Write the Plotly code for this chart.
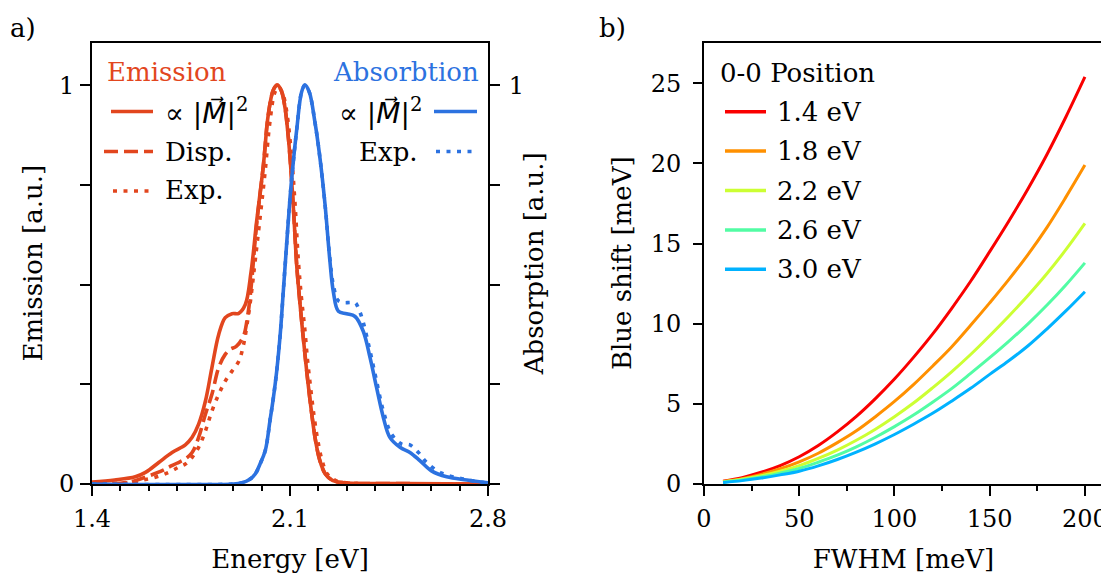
import plotly.graph_objects as go

# The page adds an 8 px body margin, so the figure is 8 px smaller than the window
# and all layout positions below are given in window pixels, then shifted.
OFF = 8
W, H = 1109 - OFF, 575 - OFF


def px(x):
    return (x - OFF) / W


def py(y):
    return 1 - (y - OFF) / H


FONT = "DejaVu Serif"
FS = 26
TFS = 24
EM_COLOR = "#e2461e"
AB_COLOR = "#2c72e0"

# ---------------- panel a) data ----------------
em_calc_E = [1.40, 1.48, 1.553, 1.589, 1.636, 1.683, 1.73, 1.754, 1.777, 1.801, 1.824, 1.848,
             1.871, 1.895, 1.919, 1.942, 1.962, 1.982, 2.006, 2.023, 2.041, 2.055, 2.07, 2.082,
             2.094, 2.106, 2.115, 2.124, 2.135, 2.145, 2.155, 2.165, 2.177, 2.19, 2.205, 2.225,
             2.25, 2.29, 2.5, 2.8]
em_calc_I = [0.005, 0.010, 0.018, 0.029, 0.054, 0.079, 0.098, 0.117, 0.150, 0.208, 0.292, 0.375,
             0.417, 0.427, 0.428, 0.450, 0.530, 0.658, 0.800, 0.925, 0.988, 1.000, 0.985, 0.945,
             0.870, 0.760, 0.655, 0.545, 0.455, 0.380, 0.310, 0.245, 0.175, 0.110, 0.060, 0.025,
             0.009, 0.003, 0.001, 0.0]

em_disp_E = [1.40, 1.50, 1.541, 1.60, 1.65, 1.671, 1.70, 1.73, 1.754, 1.777, 1.801, 1.824, 1.848,
             1.871, 1.889, 1.91, 1.935, 1.95, 1.962, 1.982, 2.006, 2.023, 2.041, 2.055, 2.07,
             2.082, 2.094, 2.106, 2.115, 2.124, 2.135, 2.145, 2.155, 2.165, 2.177, 2.19, 2.205,
             2.225, 2.25, 2.29, 2.5, 2.8]
em_disp_I = [0.0, 0.002, 0.006, 0.020, 0.034, 0.042, 0.052, 0.063, 0.079, 0.117, 0.175, 0.225,
             0.292, 0.325, 0.338, 0.345, 0.370, 0.420, 0.490, 0.650, 0.800, 0.925, 0.988, 1.000,
             0.985, 0.945, 0.870, 0.760, 0.655, 0.545, 0.455, 0.380, 0.310, 0.245, 0.175, 0.110,
             0.060, 0.025, 0.009, 0.003, 0.001, 0.0]

em_exp_E = [1.40, 1.50, 1.541, 1.58, 1.624, 1.671, 1.706, 1.73, 1.754, 1.777, 1.801, 1.824, 1.848,
            1.871, 1.895, 1.919, 1.936, 1.948, 1.96, 1.972, 1.994, 2.012, 2.029, 2.047, 2.06,
            2.076, 2.09, 2.106, 2.118, 2.129, 2.14, 2.152, 2.162, 2.173, 2.185, 2.198, 2.213,
            2.232, 2.26, 2.30, 2.8]
em_exp_I = [0.0, 0.002, 0.004, 0.010, 0.017, 0.029, 0.042, 0.050, 0.067, 0.092, 0.133, 0.183,
            0.225, 0.258, 0.283, 0.308, 0.350, 0.400, 0.458, 0.530, 0.667, 0.783, 0.908, 0.983,
            0.995, 0.975, 0.925, 0.817, 0.700, 0.565, 0.470, 0.390, 0.310, 0.240, 0.170, 0.110,
            0.060, 0.025, 0.009, 0.003, 0.0]

ab_calc_E = [1.40, 1.90, 1.93, 1.958, 1.977, 1.994, 2.013, 2.029, 2.04, 2.053, 2.066, 2.076, 2.088,
             2.10, 2.112, 2.124, 2.141, 2.153, 2.168, 2.188, 2.206, 2.224, 2.241, 2.253, 2.271,
             2.30, 2.33, 2.359, 2.383, 2.406, 2.43, 2.453, 2.489, 2.524, 2.56, 2.60, 2.654, 2.725,
             2.80]
ab_calc_I = [0.0, 0.0, 0.003, 0.012, 0.025, 0.050, 0.085, 0.158, 0.210, 0.283, 0.380, 0.480, 0.600,
             0.717, 0.810, 0.890, 0.983, 1.000, 0.983, 0.908, 0.817, 0.700, 0.560, 0.483, 0.433,
             0.427, 0.420, 0.383, 0.317, 0.242, 0.167, 0.117, 0.092, 0.079, 0.058, 0.033, 0.018,
             0.010, 0.003]

ab_exp_E = [1.40, 1.90, 1.93, 1.958, 1.977, 1.994, 2.013, 2.029, 2.04, 2.053, 2.066, 2.076, 2.088,
            2.10, 2.112, 2.124, 2.141, 2.153, 2.168, 2.188, 2.206, 2.224, 2.241, 2.253, 2.27,
            2.289, 2.31, 2.33, 2.345, 2.359, 2.383, 2.406, 2.43, 2.459, 2.495, 2.524, 2.554,
            2.583, 2.636, 2.713, 2.78, 2.80]
ab_exp_I = [0.0, 0.0, 0.003, 0.012, 0.025, 0.050, 0.085, 0.158, 0.210, 0.283, 0.380, 0.480, 0.600,
            0.717, 0.810, 0.890, 0.983, 1.000, 0.983, 0.908, 0.817, 0.700, 0.565, 0.500, 0.460,
            0.455, 0.455, 0.455, 0.435, 0.405, 0.333, 0.258, 0.183, 0.125, 0.100, 0.098, 0.079,
            0.054, 0.027, 0.0125, 0.004, 0.003]

energy_ticks = [1.4, 2.1, 2.8]
emission_ticks = [0, 1]
absorption_ticks = [1]

# ---------------- panel b) data ----------------
fwhm = [10, 20, 30, 40, 50, 60, 70, 80, 90, 100, 110, 120, 130, 140, 150, 160, 170, 180, 190, 200]
shift_14 = [0.18, 0.40, 0.73, 1.15, 1.70, 2.40, 3.25, 4.22, 5.33, 6.55, 7.90, 9.35, 10.95, 12.65,
            14.50, 16.40, 18.40, 20.55, 22.90, 25.40]
shift_18 = [0.15, 0.33, 0.60, 0.95, 1.38, 1.92, 2.58, 3.32, 4.20, 5.15, 6.20, 7.35, 8.55, 9.90,
            11.30, 12.75, 14.30, 16.00, 17.90, 19.90]
shift_22 = [0.13, 0.29, 0.51, 0.80, 1.15, 1.60, 2.12, 2.73, 3.42, 4.20, 5.05, 6.00, 7.00, 8.08,
            9.25, 10.47, 11.75, 13.12, 14.62, 16.26]
shift_26 = [0.11, 0.25, 0.44, 0.68, 0.97, 1.36, 1.80, 2.32, 2.92, 3.58, 4.30, 5.10, 5.95, 6.90,
            7.88, 8.90, 9.98, 11.15, 12.42, 13.80]
shift_30 = [0.09, 0.21, 0.37, 0.57, 0.80, 1.13, 1.53, 1.99, 2.51, 3.09, 3.73, 4.41, 5.17, 5.97,
            6.84, 7.69, 8.61, 9.67, 10.80, 12.00]
positions = ["1.4 eV", "1.8 eV", "2.2 eV", "2.6 eV", "3.0 eV"]
pos_colors = ["#fa0000", "#ff9000", "#ccff33", "#52fca4", "#00b2ff"]
fwhm_ticks = [0, 50, 100, 150, 200]
shift_ticks = [0, 5, 10, 15, 20, 25]

fig = go.Figure()

LW = 3.6
DOT = "4px,6.5px"
DASH = "14px,6px"

# panel a traces
fig.add_trace(go.Scatter(x=em_calc_E, y=em_calc_I, mode="lines", line=dict(color=EM_COLOR, width=LW),
                         line_shape="spline", xaxis="x", yaxis="y", showlegend=False))
fig.add_trace(go.Scatter(x=em_disp_E, y=em_disp_I, mode="lines",
                         line=dict(color=EM_COLOR, width=LW, dash=DASH),
                         line_shape="spline", xaxis="x", yaxis="y", showlegend=False))
fig.add_trace(go.Scatter(x=em_exp_E, y=em_exp_I, mode="lines",
                         line=dict(color=EM_COLOR, width=LW, dash=DOT),
                         line_shape="spline", xaxis="x", yaxis="y", showlegend=False))
fig.add_trace(go.Scatter(x=ab_calc_E, y=ab_calc_I, mode="lines", line=dict(color=AB_COLOR, width=LW),
                         line_shape="spline", xaxis="x", yaxis="y2", showlegend=False))
fig.add_trace(go.Scatter(x=ab_exp_E, y=ab_exp_I, mode="lines",
                         line=dict(color=AB_COLOR, width=LW, dash=DOT),
                         line_shape="spline", xaxis="x", yaxis="y2", showlegend=False))

# panel b traces
for name, vals, col in zip(positions, [shift_14, shift_18, shift_22, shift_26, shift_30], pos_colors):
    fig.add_trace(go.Scatter(x=fwhm, y=vals, mode="lines", name=name, line=dict(color=col, width=3),
                             line_shape="spline", xaxis="x3", yaxis="y3", showlegend=False))

ydom = [py(484), py(42.5)]
axis_common = dict(showgrid=False, zeroline=False, showline=True, linecolor="black", linewidth=2,
                   ticks="outside", tickcolor="black", tickwidth=2, automargin=False,
                   ticklabeloverflow="allow",
                   tickfont=dict(family=FONT, size=TFS, color="black"))
minor_y = dict(dtick=0.25, tick0=0, ticklen=10, tickwidth=2, tickcolor="black", ticks="outside")

fig.update_layout(
    width=W, height=H, autosize=False,
    margin=dict(l=0, r=0, t=0, b=0),
    paper_bgcolor="white", plot_bgcolor="white",
    font=dict(family=FONT, size=FS, color="black"),
    showlegend=False,
    xaxis=dict(domain=[px(92), px(488)], range=[1.4, 2.8], anchor="y", mirror=True,
               tickvals=energy_ticks, ticktext=[str(v) for v in energy_ticks], ticklen=10,
               ticklabelstandoff=2,
               minor=dict(dtick=0.1, tick0=1.4, ticklen=5, tickwidth=2, tickcolor="black", ticks="outside"),
               title=dict(text="Energy [eV]", standoff=18, font=dict(family=FONT, size=FS)),
               **axis_common),
    yaxis=dict(domain=ydom, range=[0, 1.107], anchor="x",
               tickvals=emission_ticks, ticktext=["0", "1"], ticklen=10,
               ticklabelstandoff=1, minor=minor_y,
               title=dict(text="Emission [a.u.]", standoff=9, font=dict(family=FONT, size=FS)),
               **axis_common),
    yaxis2=dict(range=[0, 1.107], anchor="x", overlaying="y", side="right",
                tickvals=absorption_ticks, ticktext=["1"], ticklen=10,
                ticklabelstandoff=4, minor=minor_y,
                title=dict(text="Absorption [a.u.]", standoff=2, font=dict(family=FONT, size=FS)),
                **axis_common),
    xaxis3=dict(domain=[px(704), px(1103)], range=[0, 209.5], anchor="y3", mirror=True,
                tickvals=fwhm_ticks, ticklen=10, ticklabelstandoff=2,
                minor=dict(dtick=25, tick0=0, ticklen=5, tickwidth=2, tickcolor="black", ticks="outside"),
                title=dict(text="FWHM [meV]", standoff=18, font=dict(family=FONT, size=FS)),
                **axis_common),
    yaxis3=dict(domain=ydom, range=[0, 27.55], anchor="x3", mirror=True,
                tickvals=shift_ticks, ticklen=9, ticklabelstandoff=7,
                title=dict(text="Blue shift [meV]", standoff=12, font=dict(family=FONT, size=FS)),
                **axis_common),
)

annotations = []
shapes = []


def text(x, y, s, anchor="left", color="black", size=FS):
    annotations.append(dict(x=px(x), y=py(y), xref="paper", yref="paper", text=s, showarrow=False,
                            xanchor=anchor, yanchor="middle",
                            font=dict(family=FONT, size=size, color=color)))


def sample(x0, x1, y, color, dash="solid", width=LW):
    shapes.append(dict(type="line", xref="paper", yref="paper", x0=px(x0), x1=px(x1),
                       y0=py(y), y1=py(y), line=dict(color=color, width=width, dash=dash)))


MATH = ("\u221d |<span style=\"font-family:'DejaVu Sans'\"><i>M\u20d7</i></span>|<sup>2</sup>")

# panel labels
text(8, 28, "a)")
text(597, 28, "b)")

# Emission legend
text(167, 72, "Emission", anchor="center", color=EM_COLOR)
sample(111, 153, 111.5, EM_COLOR)
text(163, 111, MATH, size=28)
sample(104, 153, 151.5, EM_COLOR, DASH)
text(163, 152, "Disp.")
sample(113, 151, 191, EM_COLOR, DOT)
text(163, 190, "Exp.")

# Absorption legend
text(406, 72, "Absorbtion", anchor="center", color=AB_COLOR)
text(424, 111, MATH, anchor="right", size=28)
sample(434, 477, 111.5, AB_COLOR)
text(420, 152, "Exp.", anchor="right")
sample(436, 474, 151.5, AB_COLOR, DOT)

# Panel b legend
text(718, 73, "0-0 Position")
for i, (name, col) in enumerate(zip(positions, pos_colors)):
    yy = 111.7 + i * 39.4
    sample(725, 766, yy, col, width=3.5)
    text(775, yy, name)

fig.update_layout(annotations=annotations, shapes=shapes)

fig.write_html("out.html")
